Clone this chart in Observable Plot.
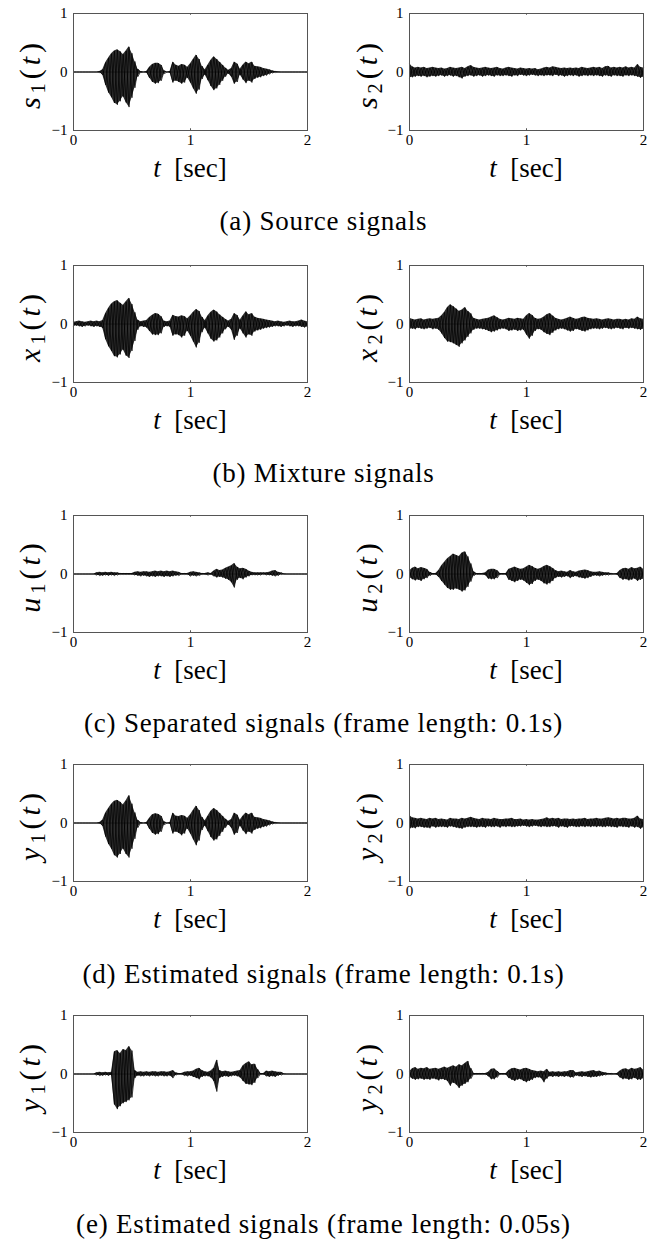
<!DOCTYPE html>
<html><head><meta charset="utf-8">
<script src="https://cdn.jsdelivr.net/npm/d3@7"></script>
<script src="https://cdn.jsdelivr.net/npm/@observablehq/plot@0.6"></script>
<style>
body{margin:0;background:#fff;}
#page{position:relative;width:647px;height:1241px;overflow:hidden;font-family:"Liberation Serif",serif;color:#000;background:#fff;}
#page svg, #page svg text{font-family:"Liberation Serif",serif !important;}
.panel{position:absolute;}
.xlab{position:absolute;font-size:27px;transform:translateX(-50%);white-space:nowrap;line-height:1;}
.ylab{position:absolute;font-size:30px;letter-spacing:4px;white-space:nowrap;line-height:1;transform:translate(-50%,-50%) rotate(-90deg);}
.cap{position:absolute;left:0;width:647px;text-align:center;font-size:27px;letter-spacing:0.8px;line-height:1;transform:translateY(-50%);}
sub{font-size:0.68em;vertical-align:-0.25em;line-height:0;}
</style></head>
<body><div id="page"></div>
<script>
// Sample times: 0 to 2 s, every 0.025 s (81 samples); envelopes
const step = 0.025;
const xTicks = [0, 1, 2];
const yTicks = [-1, 0, 1];
const captions = [
  "(a) Source signals",
  "(b) Mixture signals",
  "(c) Separated signals (frame length: 0.1s)",
  "(d) Estimated signals (frame length: 0.1s)",
  "(e) Estimated signals (frame length: 0.05s)"
];

// upper envelope (hi) and magnitude of lower envelope (lo)
const s1Hi = [0,0,0,0,0,0,0,0, 0,0.01,0.04,0.16,0.24,0.31,0.36,0.38, 0.35,0.30,0.36,0.43,0.32,0.18,0.05,0.01, 0,0.01,0.08,0.13,0.15,0.15,0.12,0.02, 0,0.01,0.17,0.12,0.10,0.13,0.12,0.08, 0.14,0.22,0.29,0.22,0.10,0.04,0.12,0.20, 0.26,0.22,0.17,0.12,0.07,0.03,0.06,0.17, 0.14,0.05,0.12,0.17,0.14,0.17,0.10,0.09, 0.08,0.06,0.05,0.04,0.02,0.01,0.005,0, 0,0,0,0,0,0,0,0, 0];
const s1Lo = [0,0,0,0,0,0,0,0, 0,0.01,0.05,0.22,0.35,0.43,0.53,0.56, 0.50,0.42,0.52,0.60,0.44,0.27,0.08,0.01, 0,0.01,0.10,0.17,0.20,0.19,0.15,0.03, 0,0.01,0.18,0.15,0.17,0.20,0.18,0.10, 0.18,0.28,0.37,0.30,0.12,0.05,0.14,0.24, 0.31,0.28,0.22,0.15,0.08,0.03,0.08,0.20, 0.17,0.05,0.13,0.19,0.15,0.18,0.12,0.10, 0.09,0.07,0.06,0.04,0.02,0.01,0.005,0, 0,0,0,0,0,0,0,0, 0];
const s2Hi = [0.14,0.09,0.07,0.08,0.07,0.08,0.06,0.07, 0.08,0.07,0.06,0.07,0.05,0.06,0.08,0.07, 0.06,0.07,0.08,0.06,0.09,0.11,0.08,0.07, 0.06,0.07,0.08,0.07,0.06,0.07,0.08,0.06, 0.05,0.07,0.08,0.07,0.06,0.05,0.07,0.06, 0.05,0.06,0.05,0.06,0.04,0.05,0.07,0.08, 0.07,0.09,0.08,0.07,0.06,0.07,0.06,0.07, 0.06,0.07,0.06,0.08,0.07,0.06,0.07,0.08, 0.07,0.08,0.06,0.09,0.10,0.07,0.08,0.07, 0.08,0.07,0.09,0.07,0.08,0.07,0.13,0.08, 0.07];
const s2Lo = [0.10,0.09,0.08,0.07,0.08,0.07,0.09,0.08, 0.07,0.08,0.07,0.06,0.08,0.07,0.06,0.08, 0.07,0.09,0.11,0.08,0.07,0.06,0.08,0.07, 0.06,0.08,0.07,0.06,0.07,0.08,0.06,0.07, 0.07,0.06,0.07,0.08,0.06,0.07,0.05,0.06, 0.07,0.06,0.05,0.06,0.07,0.06,0.07,0.06, 0.06,0.07,0.05,0.07,0.06,0.08,0.07,0.06, 0.07,0.06,0.08,0.07,0.06,0.07,0.06,0.07, 0.06,0.07,0.08,0.06,0.07,0.08,0.06,0.07, 0.07,0.08,0.06,0.07,0.06,0.07,0.08,0.10, 0.09];
const x1Hi = [0.03,0.04,0.05,0.04,0.03,0.04,0.05,0.04, 0.05,0.04,0.06,0.18,0.27,0.34,0.38,0.40, 0.36,0.32,0.38,0.44,0.34,0.20,0.07,0.04, 0.05,0.06,0.11,0.15,0.18,0.17,0.13,0.05, 0.04,0.05,0.15,0.13,0.12,0.14,0.13,0.09, 0.14,0.20,0.25,0.22,0.12,0.06,0.14,0.20, 0.24,0.21,0.16,0.12,0.08,0.05,0.08,0.18, 0.15,0.07,0.14,0.21,0.16,0.18,0.12,0.10, 0.09,0.08,0.07,0.06,0.05,0.04,0.05,0.04, 0.03,0.04,0.05,0.04,0.04,0.05,0.07,0.05, 0.04];
const x1Lo = [0.04,0.03,0.04,0.05,0.04,0.03,0.04,0.05, 0.04,0.05,0.07,0.26,0.38,0.46,0.55,0.57, 0.52,0.44,0.54,0.58,0.46,0.29,0.10,0.04, 0.05,0.06,0.12,0.18,0.19,0.19,0.16,0.05, 0.04,0.05,0.20,0.18,0.19,0.23,0.20,0.12, 0.20,0.30,0.40,0.32,0.14,0.07,0.16,0.25, 0.30,0.28,0.23,0.16,0.09,0.05,0.10,0.27, 0.20,0.08,0.16,0.23,0.18,0.20,0.13,0.11, 0.10,0.08,0.07,0.06,0.05,0.04,0.04,0.05, 0.04,0.03,0.04,0.05,0.04,0.04,0.05,0.06, 0.05];
const x2Hi = [0.10,0.08,0.07,0.08,0.09,0.07,0.08,0.09, 0.08,0.09,0.10,0.14,0.20,0.28,0.33,0.30, 0.26,0.22,0.24,0.28,0.22,0.18,0.10,0.08, 0.07,0.08,0.09,0.10,0.12,0.14,0.11,0.08, 0.07,0.08,0.10,0.09,0.08,0.10,0.09,0.08, 0.14,0.18,0.15,0.10,0.08,0.09,0.12,0.16, 0.18,0.14,0.10,0.08,0.07,0.08,0.10,0.12, 0.10,0.08,0.09,0.11,0.12,0.10,0.09,0.08, 0.09,0.08,0.07,0.08,0.09,0.08,0.07,0.08, 0.08,0.07,0.08,0.07,0.09,0.08,0.12,0.09, 0.08];
const x2Lo = [0.09,0.08,0.09,0.07,0.08,0.09,0.08,0.07, 0.09,0.08,0.10,0.16,0.24,0.30,0.31,0.33, 0.36,0.39,0.33,0.28,0.22,0.16,0.10,0.08, 0.08,0.09,0.10,0.12,0.14,0.13,0.11,0.09, 0.08,0.09,0.12,0.11,0.10,0.12,0.11,0.10, 0.18,0.25,0.20,0.12,0.09,0.10,0.14,0.17, 0.19,0.15,0.11,0.09,0.08,0.09,0.11,0.13, 0.12,0.09,0.10,0.12,0.13,0.11,0.09,0.08, 0.08,0.09,0.08,0.07,0.08,0.09,0.08,0.07, 0.08,0.09,0.07,0.08,0.07,0.08,0.09,0.10, 0.09];
const u1Hi = [0,0,0,0,0,0,0,0, 0.02,0.03,0.02,0.03,0.02,0.03,0.02,0.02, 0.01,0.01,0.01,0.01,0.01,0.03,0.04,0.03, 0.04,0.04,0.03,0.04,0.05,0.04,0.05,0.04, 0.05,0.04,0.05,0.04,0.03,0.01,0.01,0.01, 0.03,0.04,0.03,0.02,0.01,0.01,0.02,0.01, 0.05,0.08,0.06,0.07,0.10,0.12,0.14,0.18, 0.12,0.09,0.10,0.08,0.05,0.03,0.02,0.02, 0.02,0.02,0.02,0.03,0.05,0.06,0.03,0.02, 0.005,0,0,0,0,0,0,0, 0];
const u1Lo = [0,0,0,0,0,0,0,0, 0.02,0.03,0.03,0.02,0.03,0.02,0.03,0.02, 0.01,0.01,0.01,0.01,0.01,0.02,0.03,0.04, 0.03,0.04,0.05,0.04,0.05,0.04,0.04,0.05, 0.04,0.05,0.04,0.03,0.03,0.01,0.01,0.01, 0.04,0.03,0.04,0.03,0.01,0.01,0.02,0.01, 0.04,0.06,0.05,0.06,0.08,0.10,0.14,0.23, 0.10,0.07,0.09,0.06,0.04,0.02,0.02,0.02, 0.02,0.01,0.02,0.02,0.03,0.04,0.03,0.01, 0.005,0,0,0,0,0,0,0, 0];
const u2Hi = [0.05,0.10,0.12,0.09,0.11,0.10,0.08,0.03, 0.01,0.01,0.06,0.14,0.20,0.26,0.30,0.34, 0.32,0.30,0.36,0.38,0.30,0.18,0.04,0.01, 0.01,0.01,0.02,0.07,0.08,0.08,0.06,0.01, 0.01,0.01,0.08,0.10,0.12,0.10,0.08,0.09, 0.12,0.15,0.13,0.10,0.08,0.10,0.13,0.15, 0.13,0.10,0.06,0.04,0.05,0.04,0.03,0.06, 0.04,0.03,0.05,0.06,0.07,0.06,0.04,0.03, 0.03,0.04,0.03,0.02,0.02,0.01,0.005,0.01, 0.06,0.09,0.10,0.08,0.11,0.09,0.10,0.12, 0.08];
const u2Lo = [0.06,0.09,0.11,0.10,0.12,0.09,0.07,0.03, 0.01,0.01,0.05,0.12,0.18,0.24,0.27,0.27, 0.25,0.27,0.30,0.28,0.22,0.13,0.03,0.01, 0.01,0.01,0.02,0.08,0.09,0.09,0.07,0.01, 0.01,0.01,0.10,0.12,0.14,0.12,0.10,0.11, 0.15,0.19,0.17,0.12,0.10,0.12,0.16,0.18, 0.16,0.12,0.07,0.05,0.06,0.05,0.04,0.07, 0.05,0.04,0.06,0.07,0.08,0.07,0.05,0.03, 0.03,0.04,0.03,0.02,0.02,0.01,0.005,0.01, 0.07,0.10,0.09,0.11,0.10,0.08,0.12,0.10, 0.09];
const y1dHi = [0,0,0,0,0,0,0,0, 0,0.01,0.05,0.17,0.25,0.32,0.37,0.39, 0.36,0.31,0.38,0.47,0.33,0.18,0.05,0.01, 0,0.01,0.08,0.14,0.16,0.15,0.12,0.02, 0,0.01,0.17,0.12,0.11,0.13,0.12,0.08, 0.14,0.22,0.29,0.22,0.10,0.04,0.12,0.20, 0.25,0.22,0.17,0.12,0.07,0.03,0.06,0.17, 0.14,0.05,0.12,0.17,0.14,0.17,0.10,0.09, 0.08,0.06,0.05,0.04,0.02,0.01,0.005,0, 0,0,0,0,0,0,0,0, 0];
const y1dLo = [0,0,0,0,0,0,0,0, 0,0.01,0.05,0.23,0.36,0.44,0.55,0.59, 0.53,0.44,0.53,0.59,0.44,0.27,0.08,0.01, 0,0.01,0.10,0.17,0.20,0.19,0.15,0.03, 0,0.01,0.18,0.15,0.17,0.21,0.18,0.10, 0.18,0.28,0.38,0.30,0.12,0.05,0.14,0.24, 0.30,0.28,0.22,0.15,0.08,0.03,0.08,0.20, 0.17,0.05,0.13,0.19,0.15,0.18,0.12,0.10, 0.09,0.07,0.06,0.04,0.02,0.01,0.005,0, 0,0,0,0,0,0,0,0, 0];
const y2dHi = [0.13,0.09,0.08,0.07,0.08,0.07,0.06,0.08, 0.07,0.08,0.06,0.07,0.06,0.05,0.08,0.07, 0.07,0.06,0.08,0.07,0.08,0.10,0.08,0.07, 0.06,0.08,0.07,0.07,0.06,0.08,0.07,0.06, 0.06,0.07,0.07,0.08,0.06,0.06,0.07,0.05, 0.06,0.05,0.06,0.05,0.05,0.06,0.07,0.09, 0.07,0.08,0.07,0.08,0.06,0.07,0.07,0.06, 0.07,0.06,0.07,0.07,0.08,0.06,0.07,0.07, 0.08,0.07,0.07,0.08,0.09,0.08,0.07,0.08, 0.07,0.08,0.08,0.07,0.07,0.08,0.12,0.07, 0.06];
const y2dLo = [0.11,0.08,0.09,0.07,0.07,0.08,0.08,0.09, 0.06,0.08,0.07,0.07,0.07,0.08,0.06,0.07, 0.08,0.09,0.10,0.08,0.07,0.07,0.07,0.08, 0.07,0.07,0.08,0.06,0.07,0.07,0.06,0.08, 0.06,0.07,0.06,0.07,0.07,0.06,0.06,0.05, 0.06,0.07,0.06,0.05,0.06,0.07,0.06,0.07, 0.07,0.06,0.06,0.08,0.06,0.07,0.08,0.06, 0.06,0.07,0.07,0.06,0.07,0.06,0.07,0.06, 0.07,0.06,0.07,0.07,0.06,0.07,0.07,0.08, 0.06,0.07,0.07,0.08,0.06,0.08,0.07,0.10, 0.08];
const y1eHi = [0,0,0,0,0,0,0,0, 0.02,0.03,0.02,0.03,0.02,0.03,0.38,0.40, 0.35,0.42,0.40,0.47,0.40,0.06,0.03,0.04, 0.03,0.04,0.03,0.04,0.04,0.03,0.04,0.04, 0.03,0.04,0.06,0.02,0.01,0.01,0.03,0.04, 0.04,0.05,0.08,0.10,0.06,0.04,0.03,0.05, 0.10,0.24,0.06,0.04,0.05,0.04,0.03,0.04, 0.05,0.06,0.14,0.18,0.21,0.16,0.17,0.08, 0.01,0.01,0.05,0.04,0.05,0.04,0.03,0.03, 0.005,0,0,0,0,0,0,0, 0];
const y1eLo = [0,0,0,0,0,0,0,0, 0.02,0.03,0.03,0.02,0.03,0.02,0.52,0.60, 0.55,0.50,0.48,0.45,0.40,0.07,0.03,0.04, 0.04,0.03,0.04,0.03,0.04,0.04,0.03,0.04, 0.04,0.03,0.07,0.02,0.01,0.01,0.03,0.04, 0.03,0.05,0.07,0.09,0.05,0.04,0.04,0.06, 0.12,0.30,0.07,0.05,0.04,0.05,0.04,0.03, 0.04,0.06,0.12,0.17,0.18,0.19,0.15,0.07, 0.01,0.01,0.04,0.05,0.04,0.05,0.03,0.02, 0.005,0,0,0,0,0,0,0, 0];
const y2eHi = [0.04,0.09,0.11,0.08,0.10,0.09,0.11,0.08, 0.09,0.10,0.08,0.10,0.12,0.10,0.12,0.14, 0.12,0.16,0.14,0.18,0.22,0.10,0.01,0.01, 0.01,0.01,0.01,0.03,0.08,0.09,0.05,0.01, 0.01,0.01,0.06,0.09,0.10,0.08,0.07,0.09, 0.10,0.08,0.06,0.05,0.04,0.05,0.04,0.08, 0.03,0.04,0.03,0.04,0.03,0.04,0.04,0.06, 0.06,0.02,0.03,0.04,0.03,0.04,0.05,0.06, 0.04,0.05,0.03,0.02,0.01,0.01,0.005,0.01, 0.05,0.08,0.09,0.07,0.10,0.08,0.09,0.11, 0.07];
const y2eLo = [0.05,0.08,0.10,0.09,0.08,0.10,0.09,0.10, 0.08,0.09,0.11,0.09,0.10,0.12,0.20,0.15, 0.18,0.24,0.20,0.17,0.14,0.08,0.01,0.01, 0.01,0.01,0.01,0.04,0.09,0.09,0.06,0.01, 0.01,0.01,0.07,0.10,0.12,0.10,0.09,0.12, 0.14,0.12,0.10,0.07,0.06,0.07,0.14,0.08, 0.04,0.05,0.04,0.05,0.04,0.05,0.04,0.06, 0.06,0.03,0.04,0.05,0.04,0.05,0.06,0.05, 0.05,0.04,0.03,0.02,0.01,0.01,0.005,0.01, 0.06,0.09,0.08,0.10,0.09,0.07,0.10,0.10, 0.08];

const panels = [
  {hi: s1Hi, lo: s1Lo, v: "s", sub: "1"}, {hi: s2Hi, lo: s2Lo, v: "s", sub: "2"},
  {hi: x1Hi, lo: x1Lo, v: "x", sub: "1"}, {hi: x2Hi, lo: x2Lo, v: "x", sub: "2"},
  {hi: u1Hi, lo: u1Lo, v: "u", sub: "1"}, {hi: u2Hi, lo: u2Lo, v: "u", sub: "2"},
  {hi: y1dHi, lo: y1dLo, v: "y", sub: "1"}, {hi: y2dHi, lo: y2dLo, v: "y", sub: "2"},
  {hi: y1eHi, lo: y1eLo, v: "y", sub: "1"}, {hi: y2eHi, lo: y2eLo, v: "y", sub: "2"}
];

// layout
const frameTops = [13, 265, 515, 764, 1015];
const capY = [221, 473, 723, 974, 1224];
const frameW = 234, frameH = 117, mTop = 10, mBottom = 33, mLeft = 73;
const page = document.getElementById("page");

panels.forEach((p, k) => {
  const row = Math.floor(k / 2), col = k % 2;
  const left = col ? 336 : 0;
  const width = col ? 311 : 320;
  const ft = frameTops[row];
  const data = p.hi.map((h, i) => ({t: i * step, hi: h, lo: -p.lo[i]}));
  // two criss-crossing traces through the envelope samples (waveform texture)
  const trA = data.map((d, i) => ({t: d.t, v: i % 2 ? d.lo : d.hi}));
  const trB = data.map((d, i) => ({t: d.t, v: i % 2 ? d.hi : d.lo}));
  const chart = Plot.plot({
    width, height: mTop + frameH + mBottom,
    marginLeft: mLeft, marginRight: width - mLeft - frameW, marginTop: mTop, marginBottom: mBottom,
    style: {fontFamily: "'Liberation Serif', serif", fontSize: "15px", color: "#000", background: "transparent", overflow: "visible"},
    x: {domain: [0, 2], ticks: xTicks, tickSize: 0, tickPadding: 4, label: null, tickFormat: d => String(d)},
    y: {domain: [-1, 1], ticks: yTicks, tickSize: 0, tickPadding: 6, label: null, tickFormat: d => d < 0 ? "\u2212" + Math.abs(d) : String(d)},
    marks: [
      Plot.ruleY([0], {stroke: "#8a8a8a", strokeWidth: 1}),
      Plot.areaY(data, {x: "t", y1: "lo", y2: "hi", fill: "#000", fillOpacity: 0.82, curve: "linear"}),
      Plot.line(trA, {x: "t", y: "v", stroke: "#000", strokeWidth: 0.7, curve: "linear"}),
      Plot.line(trB, {x: "t", y: "v", stroke: "#000", strokeWidth: 0.7, curve: "linear"}),
      Plot.ruleX([1], {y1: 0.97, y2: 1, stroke: "#555"}),
      Plot.ruleX([1], {y1: -1, y2: -0.97, stroke: "#555"}),
      Plot.frame({stroke: "#555", strokeWidth: 1})
    ]
  });
  const wrap = document.createElement("div");
  wrap.className = "panel";
  wrap.style.left = left + "px";
  wrap.style.top = (ft - mTop) + "px";
  wrap.appendChild(chart);
  page.appendChild(wrap);

  const cx = left + mLeft + frameW / 2;
  const xl = document.createElement("div");
  xl.className = "xlab";
  xl.style.left = cx + "px";
  xl.style.top = (ft + 142) + "px";
  xl.innerHTML = "<i>t</i>&nbsp;&nbsp;[sec]";
  page.appendChild(xl);

  const yl = document.createElement("div");
  yl.className = "ylab";
  yl.style.left = (col ? 367 : 30) + "px";
  yl.style.top = (ft + frameH / 2 + 2) + "px";
  yl.innerHTML = "<i>" + p.v + "</i><sub>" + p.sub + "</sub>(<i>t</i>)";
  page.appendChild(yl);
});

captions.forEach((c, r) => {
  const d = document.createElement("div");
  d.className = "cap";
  d.style.top = capY[r] + "px";
  d.textContent = c;
  page.appendChild(d);
});
</script>
</body></html>
